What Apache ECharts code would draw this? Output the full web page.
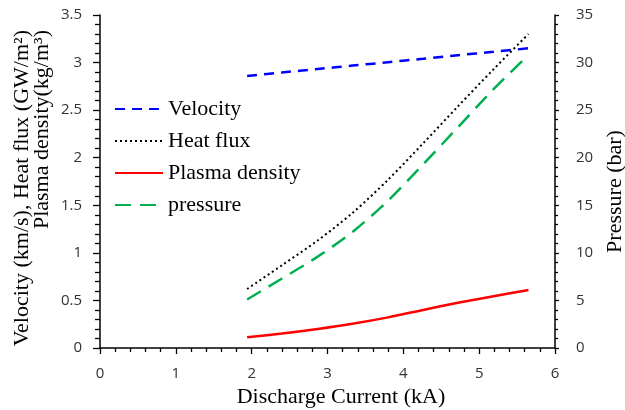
<!DOCTYPE html>
<html>
<head>
<meta charset="utf-8">
<script src="https://cdn.jsdelivr.net/npm/echarts@6/dist/echarts.min.js"></script>
<style>html,body{margin:0;padding:0;background:#fff}#c{width:625px;height:410px}</style>
</head>
<body>
<div id="c"></div>
<script>
var current = [1.94, 2.40, 2.87, 3.33, 3.80, 4.26, 4.72, 5.19, 5.65];
var velocity = [2.860, 2.896, 2.932, 2.968, 3.004, 3.040, 3.077, 3.113, 3.150];
var heatFlux = [0.62, 0.87, 1.13, 1.42, 1.77, 2.15, 2.54, 2.93, 3.30];
var plasmaDensity = [0.112, 0.152, 0.20, 0.255, 0.322, 0.40, 0.475, 0.545, 0.61];
var pressure = [5.1, 7.3, 9.6, 12.2, 15.5, 19.3, 23.2, 27.2, 30.8];
var seriesNames = ['Velocity', 'Heat flux', 'Plasma density', 'pressure'];
var leftAxisTitle = 'Velocity (km/s), Heat flux (GW/m\u00b2)\nPlasma density(kg/m\u00b3)';
var rightAxisTitle = 'Pressure (bar)';
var xAxisTitle = 'Discharge Current (kA)';

function pairs(xs, ys) { return xs.map(function (x, i) { return [x, ys[i]]; }); }

var serif = 'Liberation Serif';
var sans = 'Open Sans';
var axisLine = { show: true, lineStyle: { color: '#000', width: 1.5 } };
var tickLabel = { fontFamily: sans, fontSize: 15, color: '#333' };
function ticks(len, mlen) {
  return {
    axisTick: { show: true, length: len, lineStyle: { color: '#000', width: 1.3 } },
    minorTick: { show: true, splitNumber: 5, length: mlen, lineStyle: { color: '#000', width: 1.3 } }
  };
}

var chart = echarts.init(document.getElementById('c'));
chart.setOption({
  animation: false,
  grid: { left: 100, right: 70, top: 15, bottom: 62, containLabel: false, outerBoundsMode: 'none' },
  legend: {
    orient: 'vertical', left: 109, top: 93, itemWidth: 48, itemHeight: 14, itemGap: 10,
    itemStyle: { opacity: 0 },
    textStyle: { fontFamily: serif, fontSize: 22, color: '#000', lineHeight: 22 },
    data: seriesNames
  },
  graphic: [{
    type: 'text', x: 32, y: 30, rotation: Math.PI / 2,
    style: {
      text: leftAxisTitle, textAlign: 'right', textVerticalAlign: 'middle',
      fontFamily: serif, fontSize: 22, lineHeight: 20, fill: '#000'
    }
  }],
  xAxis: Object.assign({
    type: 'value', min: 0, max: 6, interval: 1,
    name: xAxisTitle, nameLocation: 'middle', nameGap: 33,
    nameTextStyle: { fontFamily: serif, fontSize: 22, color: '#000', padding: [0, 0, 0, 27] },
    axisLine: axisLine,
    splitLine: { show: false },
    axisLabel: Object.assign({ margin: 18 }, tickLabel)
  }, ticks(6, 4)),
  yAxis: [Object.assign({
    type: 'value', min: 0, max: 3.5, interval: 0.5, position: 'left',
    axisLine: axisLine,
    splitLine: { show: false },
    axisLabel: Object.assign({ margin: 18 }, tickLabel)
  }, ticks(7, 5)), Object.assign({
    type: 'value', min: 0, max: 35, interval: 5, position: 'right',
    name: rightAxisTitle, nameLocation: 'middle', nameGap: 48, nameRotate: 90,
    nameTextStyle: { fontFamily: serif, fontSize: 22, color: '#000', padding: [0, 20, 0, 0] },
    axisLine: axisLine,
    splitLine: { show: false },
    axisLabel: Object.assign({ margin: 21 }, tickLabel)
  }, ticks(4, 3))],
  series: [{
    name: seriesNames[0], type: 'line', smooth: 0.3, showSymbol: false, symbol: 'none', yAxisIndex: 0,
    data: pairs(current, velocity),
    lineStyle: { color: '#0000ff', width: 2.5, type: [10, 7] }, itemStyle: { color: '#0000ff' }
  }, {
    name: seriesNames[1], type: 'line', smooth: 0.3, showSymbol: false, symbol: 'none', yAxisIndex: 0,
    data: pairs(current, heatFlux),
    lineStyle: { color: '#000', width: 2, type: [2, 3] }, itemStyle: { color: '#000' }
  }, {
    name: seriesNames[2], type: 'line', smooth: 0.3, showSymbol: false, symbol: 'none', yAxisIndex: 0,
    data: pairs(current, plasmaDensity),
    lineStyle: { color: '#ff0000', width: 2.5 }, itemStyle: { color: '#ff0000' }
  }, {
    name: seriesNames[3], type: 'line', smooth: 0.3, showSymbol: false, symbol: 'none', yAxisIndex: 1,
    data: pairs(current, pressure),
    lineStyle: { color: '#00b050', width: 2.5, type: [16, 9] }, itemStyle: { color: '#00b050' }
  }]
});
</script>
</body>
</html>
